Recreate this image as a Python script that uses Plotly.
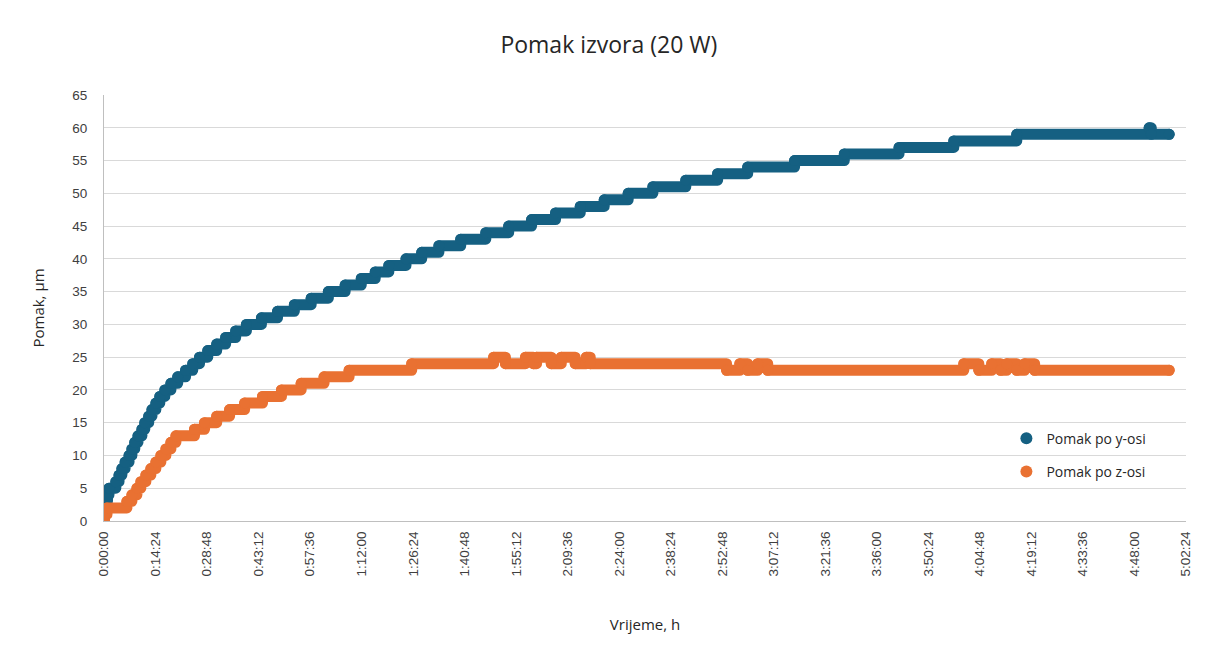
import plotly.graph_objects as go

# ---- data (time in minutes from start, displacement in micrometres) ----
y_axis_times = [0, 0.14, 0.42, 0.70, 0.97, 1.4, 3.3, 4.2, 5.0, 5.9, 7.0, 7.8, 8.6, 9.5, 10.6, 11.4,
                12.5, 13.4, 14.5, 15.6, 17.0, 18.7, 20.6, 22.8, 24.8, 26.7, 29.0, 31.5, 34.0, 36.8,
                39.8, 44.0, 48.5, 53.2, 57.9, 62.7, 67.4, 71.9, 75.8, 79.6, 84.4, 88.8, 93.6, 99.7,
                106.7, 113.1, 119.5, 126.2, 133.1, 139.8, 146.5, 153.4, 162.6, 171.5, 179.9, 193.0,
                206.9, 222.2, 237.5, 255.1, 292.1, 292.7, 297.7]
y_axis_values = [0, 1, 2, 3, 4, 5, 6, 7, 8, 9, 10, 11, 12, 13, 14, 15, 16, 17, 18, 19, 20, 21, 22,
                 23, 24, 25, 26, 27, 28, 29, 30, 31, 32, 33, 34, 35, 36, 37, 38, 39, 40, 41, 42, 43,
                 44, 45, 46, 47, 48, 49, 50, 51, 52, 53, 54, 55, 56, 57, 58, 59, 60, 59, 59]

z_axis_times = [0, 0.14, 0.84, 6.4, 7.8, 9.2, 10.3, 11.7, 13.1, 14.5, 15.9, 17.3, 18.7, 20.1, 25.3,
                28.1, 31.5, 35.1, 39.3, 44.3, 49.6, 55.1, 61.5, 68.5, 86.0,
                108.9, 112.2, 117.8, 120.0, 120.9, 125.0, 127.8, 131.7, 134.8, 135.9,
                174.0, 177.7, 179.9, 182.7, 185.5,
                240.3, 244.5, 248.1, 250.6, 252.3, 255.1, 257.3, 260.1, 297.7]
z_axis_values = [0, 1, 2, 3, 4, 5, 6, 7, 8, 9, 10, 11, 12, 13, 14, 15, 16, 17, 18, 19, 20, 21, 22,
                 23, 24,
                 25, 24, 25, 24, 25, 24, 25, 24, 25, 24,
                 23, 24, 23, 24, 23,
                 24, 23, 24, 23, 24, 23, 24, 23, 23]

x_tick_minutes = [0, 14.4, 28.8, 43.2, 57.6, 72.0, 86.4, 100.8, 115.2, 129.6, 144.0, 158.4,
                  172.8, 187.2, 201.6, 216.0, 230.4, 244.8, 259.2, 273.6, 288.0, 302.4]
x_tick_labels = ["0:00:00", "0:14:24", "0:28:48", "0:43:12", "0:57:36", "1:12:00", "1:26:24",
                 "1:40:48", "1:55:12", "2:09:36", "2:24:00", "2:38:24", "2:52:48", "3:07:12",
                 "3:21:36", "3:36:00", "3:50:24", "4:04:48", "4:19:12", "4:33:36", "4:48:00",
                 "5:02:24"]

series_names = ["Pomak po y-osi", "Pomak po z-osi"]
BLUE = "#156082"
ORANGE = "#E97132"
MS = 11

fig = go.Figure()
for t, v, name, col in [(y_axis_times, y_axis_values, series_names[0], BLUE),
                        (z_axis_times, z_axis_values, series_names[1], ORANGE)]:
    # held readings drawn as a thick step line, readings as round markers
    fig.add_trace(go.Scatter(x=t, y=v, mode="lines+markers", line_shape="hv",
                             line=dict(color=col, width=MS),
                             marker=dict(color=col, size=MS),
                             name=name, showlegend=False, hoverinfo="x+y"))
# legend entries (markers only, as in the original)
for name, col in zip(series_names, [BLUE, ORANGE]):
    fig.add_trace(go.Scatter(x=[None], y=[None], mode="markers", name=name,
                             marker=dict(color=col, size=MS), legendgroup=name))

TICK_FONT = dict(family="Liberation Sans, Arial, sans-serif", size=13.5, color="#404040")
TEXT_FONT = "Open Sans, Lato, sans-serif"

fig.update_layout(
    width=1197, height=644,
    paper_bgcolor="white", plot_bgcolor="white",
    margin=dict(l=96, r=15, t=87, b=131),
    title=dict(text="Pomak izvora (20 W)", x=0.502, xref="container", xanchor="center",
               y=0.9425, yref="container", yanchor="middle",
               font=dict(family=TEXT_FONT, size=23, color="#262626")),
    showlegend=True,
    legend=dict(x=0.834, y=0.231, xanchor="left", yanchor="top",
                font=dict(family=TEXT_FONT, size=14, color="#262626"),
                bgcolor="rgba(0,0,0,0)", tracegroupgap=12, itemsizing="constant"),
    xaxis=dict(range=[0, 302.4], tickvals=x_tick_minutes, ticktext=x_tick_labels,
               tickangle=-90, tickfont=TICK_FONT, showgrid=False, zeroline=False,
               showline=True, linecolor="#BFBFBF", linewidth=1, ticks="",
               ticklabelstandoff=4,
               title=dict(text="Vrijeme, h", font=dict(family=TEXT_FONT, size=15, color="#262626"),
                          standoff=44)),
    yaxis=dict(range=[0, 65], dtick=5, tick0=0, tickfont=TICK_FONT, showgrid=True,
               gridcolor="#D9D9D9", gridwidth=1, zeroline=False,
               showline=True, linecolor="#BFBFBF", linewidth=1, ticks="",
               ticklabelstandoff=13,
               title=dict(text="Pomak, µm", font=dict(family=TEXT_FONT, size=15, color="#262626"),
                          standoff=24)),
)

# round joins/caps so the thick step line looks like overlapping round markers
round_js = ("document.querySelectorAll('.js-line').forEach(function(p){"
            "p.style.strokeLinejoin='round';p.style.strokeLinecap='round';});")
fig.write_html("out.html", post_script=round_js)
